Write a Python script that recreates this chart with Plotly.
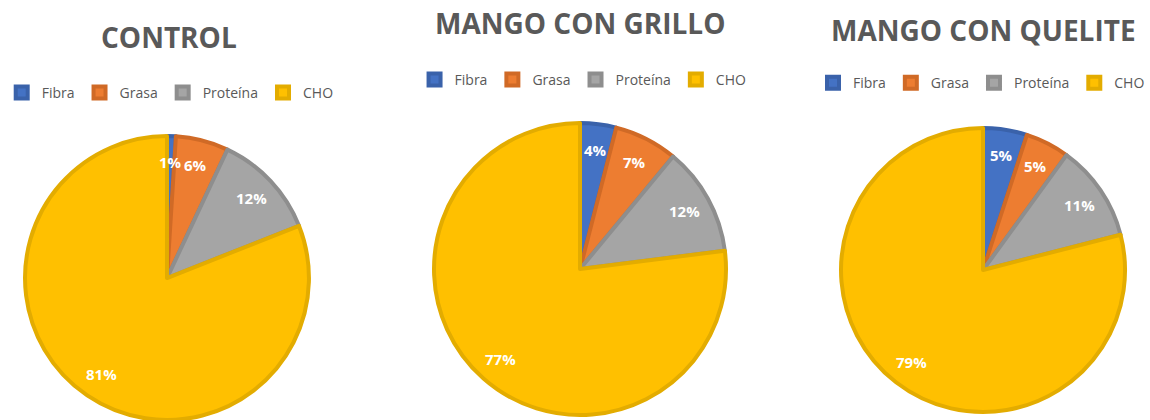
import math
import plotly.graph_objects as go

categories = ["Fibra", "Grasa", "Proteína", "CHO"]
control_vals = [1, 6, 12, 81]
grillo_vals = [4, 7, 12, 77]
quelite_vals = [5, 5, 11, 79]
titles = ["CONTROL", "MANGO CON GRILLO", "MANGO CON QUELITE"]

W, H = 1150, 420
colors = ["#4472C4", "#ED7D31", "#A5A5A5", "#FFC000"]
edge_colors = ["#3A62AA", "#D06A26", "#8E8E8E", "#E3AC00"]

domains = [
    dict(x=[0.0217, 0.2687], y=[0.0, 0.676]),
    dict(x=[0.3774, 0.6313], y=[0.0119, 0.7071]),
    dict(x=[0.7313, 0.9783], y=[0.019, 0.6952]),
]
legend_pos = [(0.148, 0.779, "center"), (0.507, 0.810, "center"), (1.0, 0.802, "right")]
title_pos = [(0.147, 0.912), (0.504, 0.945), (0.855, 0.928)]
label_radius = 0.82  # data labels sit at "inside end"-like radius

fig = go.Figure()
series = [control_vals, grillo_vals, quelite_vals]
legend_ids = ["legend", "legend2", "legend3"]
annotations = []
for i, (vals, dom, lid) in enumerate(zip(series, domains, legend_ids)):
    # distinct (invisible) suffix so each pie gets its own legend entries
    labels = [c + "\u200b" * i for c in categories]
    fig.add_trace(go.Pie(
        labels=labels, values=vals, sort=False, direction="clockwise",
        rotation=0, domain=dom, legend=lid,
        marker=dict(colors=colors, line=dict(color=edge_colors, width=4)),
        textinfo="none", hoverinfo="label+percent",
    ))
    # data labels placed along each slice's bisector
    wpx = (dom["x"][1] - dom["x"][0]) * W
    hpx = (dom["y"][1] - dom["y"][0]) * H
    r = min(wpx, hpx) / 2
    cx = (dom["x"][0] + dom["x"][1]) / 2 * W
    cy = (1 - (dom["y"][0] + dom["y"][1]) / 2) * H
    total = sum(vals)
    cum = 0
    for v in vals:
        theta = 2 * math.pi * (cum + v / 2) / total
        cum += v
        px = cx + label_radius * r * math.sin(theta)
        py = cy - label_radius * r * math.cos(theta)
        annotations.append(dict(
            text=f"{round(100 * v / total)}%", x=px / W, y=1 - py / H,
            xref="paper", yref="paper", showarrow=False,
            xanchor="center", yanchor="middle",
            font=dict(family="Open Sans", size=15, color="white", weight="bold")))

for t, (x, y) in zip(titles, title_pos):
    annotations.append(dict(
        text=t, x=x, y=y, xref="paper", yref="paper", showarrow=False,
        xanchor="center", yanchor="middle",
        font=dict(family="Open Sans", size=28, color="#595959", weight="bold")))

layout = dict(
    width=W, height=H, margin=dict(l=0, r=0, t=0, b=0, autoexpand=False),
    paper_bgcolor="white", plot_bgcolor="white",
    annotations=annotations,
)
for lid, (x, y, anchor) in zip(legend_ids, legend_pos):
    layout[lid] = dict(orientation="h", x=x, y=y, xanchor=anchor, yanchor="middle",
                       font=dict(family="Open Sans", size=14, color="#595959"),
                       itemwidth=30, bgcolor="rgba(0,0,0,0)", traceorder="normal")
fig.update_layout(**layout)
fig.write_html("out.html", config={"displayModeBar": False},
               post_script="document.body.style.margin='0';")
